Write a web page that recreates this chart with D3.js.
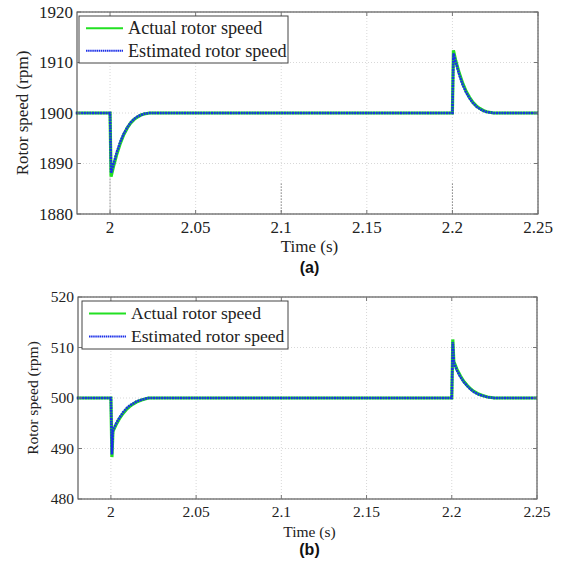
<!DOCTYPE html>
<html>
<head>
<meta charset="utf-8">
<script src="https://cdn.jsdelivr.net/npm/d3@7"></script>
<style>
  body { margin: 0; background: #fff; }
  svg text { font-family: "Times New Roman", "Liberation Serif", Tinos, serif; fill: #222; }
</style>
</head>
<body>
<svg width="562" height="567"></svg>
<script>

// data: [time (s), speed (rpm)]

var xTicks = [2, 2.05, 2.1, 2.15, 2.2, 2.25]
var xTickLabels = ["2", "2.05", "2.1", "2.15", "2.2", "2.25"]

var topActual = [
  [1.98,1900],[2.0,1900],[2.0006,1887.4],[2.002,1889.4],[2.004,1891.9],[2.006,1894],
  [2.008,1895.7],[2.010,1897],[2.012,1898],[2.014,1898.7],[2.016,1899.2],[2.018,1899.6],
  [2.020,1899.8],[2.023,1900],[2.2,1900],[2.2006,1912.4],[2.202,1910.3],[2.204,1907.9],
  [2.206,1905.9],[2.208,1904.3],[2.210,1903.1],[2.212,1902.1],[2.214,1901.4],[2.216,1900.9],
  [2.218,1900.5],[2.220,1900.25],[2.224,1900],[2.25,1900]
]
var topEstimated = [
  [1.98,1900],[2.0,1900],[2.0006,1888.1],[2.002,1889.9],[2.004,1892.3],[2.006,1894.3],
  [2.008,1895.9],[2.010,1897.1],[2.012,1898.1],[2.014,1898.8],[2.016,1899.3],[2.018,1899.6],
  [2.020,1899.85],[2.023,1900],[2.2,1900],[2.2006,1911.8],[2.202,1910],[2.204,1907.6],
  [2.206,1905.6],[2.208,1904.1],[2.210,1902.9],[2.212,1902],[2.214,1901.3],[2.216,1900.8],
  [2.218,1900.45],[2.220,1900.2],[2.224,1900],[2.25,1900]
]
var topYTicks = [1880, 1890, 1900, 1910, 1920]

var botActual = [
  [1.98,500],[2.0,500],[2.0006,488.3],[2.0012,493.4],[2.003,494.7],[2.005,495.9],
  [2.007,496.9],[2.009,497.7],[2.011,498.3],[2.013,498.8],[2.015,499.2],[2.018,499.6],
  [2.022,500],[2.2,500],[2.2006,511.6],[2.2012,507.2],[2.203,505.7],[2.205,504.4],
  [2.207,503.3],[2.209,502.5],[2.211,501.8],[2.213,501.3],[2.215,500.9],[2.218,500.5],
  [2.221,500.2],[2.225,500],[2.25,500]
]
var botEstimated = [
  [1.98,500],[2.0,500],[2.0006,488.8],[2.0012,493.6],[2.003,494.9],[2.005,496.1],
  [2.007,497.1],[2.009,497.9],[2.011,498.5],[2.013,498.9],[2.015,499.3],[2.018,499.65],
  [2.022,500],[2.2,500],[2.2006,511.1],[2.2012,507],[2.203,505.5],[2.205,504.2],
  [2.207,503.2],[2.209,502.4],[2.211,501.7],[2.213,501.2],[2.215,500.8],[2.218,500.45],
  [2.221,500.15],[2.225,500],[2.25,500]
]
var botYTicks = [480, 490, 500, 510, 520]

var legendLabels = ["Actual rotor speed", "Estimated rotor speed"]

var svg = d3.select("svg")

function panel(opt) {
  var x = d3.scaleLinear().domain([1.9807, 2.25]).range([opt.left, opt.right])
  var y = d3.scaleLinear().domain([opt.yTicks[0], opt.yTicks[opt.yTicks.length-1]]).range([opt.bottom, opt.top])
  var g = svg.append("g")

  // grid
  g.selectAll(".vgrid").data(xTicks).enter().append("line")
    .attr("x1", function(d){ return x(d) }).attr("x2", function(d){ return x(d) })
    .attr("y1", opt.top).attr("y2", opt.bottom)
    .style("stroke", "#d8d8d8").style("stroke-width", 1).style("stroke-dasharray", "1,2")
  g.selectAll(".hgrid").data(opt.yTicks).enter().append("line")
    .attr("x1", opt.left).attr("x2", opt.right)
    .attr("y1", function(d){ return y(d) }).attr("y2", function(d){ return y(d) })
    .style("stroke", "#d8d8d8").style("stroke-width", 1).style("stroke-dasharray", "1,2")

  // darker dotted grid pieces (top panel only)
  if (opt.darkGrid) {
    opt.darkGrid.forEach(function(d){
      g.append("line")
        .attr("x1", x(d[0])).attr("x2", x(d[0]))
        .attr("y1", y(d[1])).attr("y2", opt.bottom)
        .style("stroke", "#555").style("stroke-width", 1).style("stroke-dasharray", "1,2")
    })
  }

  var line = d3.line().x(function(d){ return x(d[0]) }).y(function(d){ return y(d[1]) })

  g.append("path").datum(opt.actual).attr("d", line)
    .style("fill", "none").style("stroke", "#22e022").style("stroke-width", 3.2)
  g.append("path").datum(opt.estimated).attr("d", line)
    .style("fill", "none").style("stroke", "#1a2ee8").style("stroke-width", 2.6)
    .style("stroke-dasharray", "2,0.7")

  // frame
  g.append("rect").attr("x", opt.left).attr("y", opt.top)
    .attr("width", opt.right - opt.left).attr("height", opt.bottom - opt.top)
    .style("fill", "none").style("stroke", "#3a3a3a").style("stroke-width", 1)

  // ticks inward on all four sides
  xTicks.forEach(function(d){
    [[opt.bottom, -4], [opt.top, 4]].forEach(function(s){
      g.append("line").attr("x1", x(d)).attr("x2", x(d))
        .attr("y1", s[0]).attr("y2", s[0] + s[1]).style("stroke", "#777")
    })
  })
  opt.yTicks.forEach(function(d){
    [[opt.left, 4], [opt.right, -4]].forEach(function(s){
      g.append("line").attr("y1", y(d)).attr("y2", y(d))
        .attr("x1", s[0]).attr("x2", s[0] + s[1]).style("stroke", "#777")
    })
  })

  // tick labels
  g.selectAll(".xl").data(xTicks).enter().append("text")
    .attr("x", function(d){ return x(d) }).attr("y", opt.bottom + opt.fs + 2)
    .attr("text-anchor", "middle").style("font-size", opt.fs + "px")
    .text(function(d, i){ return xTickLabels[i] })
  g.selectAll(".yl").data(opt.yTicks).enter().append("text")
    .attr("x", opt.left - 4).attr("y", function(d){ return y(d) }).attr("dy", "0.33em")
    .attr("text-anchor", "end").style("font-size", opt.fs + "px")
    .text(function(d){ return d })

  // axis titles
  g.append("text").attr("x", (opt.left + opt.right) / 2 + 2).attr("y", opt.bottom + opt.titleDy)
    .attr("text-anchor", "middle").style("font-size", opt.fs + "px").text("Time (s)")
  g.append("text")
    .attr("transform", "translate(" + opt.ylabX + "," + (opt.top + opt.bottom) / 2 + ") rotate(-90)")
    .attr("text-anchor", "middle").style("font-size", opt.fs + "px").text("Rotor speed (rpm)")

  // legend
  var lg = g.append("g")
  lg.append("rect").attr("x", opt.leg[0]).attr("y", opt.leg[1])
    .attr("width", opt.leg[2]).attr("height", opt.leg[3])
    .style("fill", "#fff").style("stroke", "#444").style("stroke-width", 1)
  var rowY = [opt.leg[1] + opt.leg[3] * 0.26, opt.leg[1] + opt.leg[3] * 0.74]
  lg.append("line").attr("x1", opt.leg[0] + 7).attr("x2", opt.leg[0] + 44)
    .attr("y1", rowY[0]).attr("y2", rowY[0])
    .style("stroke", "#22e022").style("stroke-width", 2)
  lg.append("line").attr("x1", opt.leg[0] + 7).attr("x2", opt.leg[0] + 44)
    .attr("y1", rowY[1]).attr("y2", rowY[1])
    .style("stroke", "#1a2ee8").style("stroke-width", 2).style("stroke-dasharray", "1.5,0.6")
  lg.selectAll(".lt").data(legendLabels).enter().append("text")
    .attr("x", opt.leg[0] + 49).attr("y", function(d, i){ return rowY[i] })
    .attr("dy", "0.33em").style("font-size", opt.legFs + "px").text(function(d){ return d })

  // panel letter
  g.append("text").attr("x", (opt.left + opt.right) / 2 + 2).attr("y", opt.letterY)
    .attr("text-anchor", "middle")
    .style("font-family", '"Liberation Sans", Arial, sans-serif').style("font-weight", "bold")
    .style("font-size", "16px").style("fill", "#111").text(opt.letter)
}

panel({
  left: 77, right: 538, top: 12, bottom: 214, fs: 17, legFs: 18.2,
  yTicks: topYTicks, actual: topActual, estimated: topEstimated,
  titleDy: 38, ylabX: 28, leg: [79, 16, 209, 47], letter: "(a)", letterY: 273,
  darkGrid: [[2, 1887], [2.1, 1886], [2.2, 1886]]
})

panel({
  left: 78, right: 537, top: 297, bottom: 499, fs: 15.5, legFs: 17.6,
  yTicks: botYTicks, actual: botActual, estimated: botEstimated,
  titleDy: 38, ylabX: 38, leg: [82, 301, 206, 48], letter: "(b)", letterY: 555
})

</script>
</body>
</html>
